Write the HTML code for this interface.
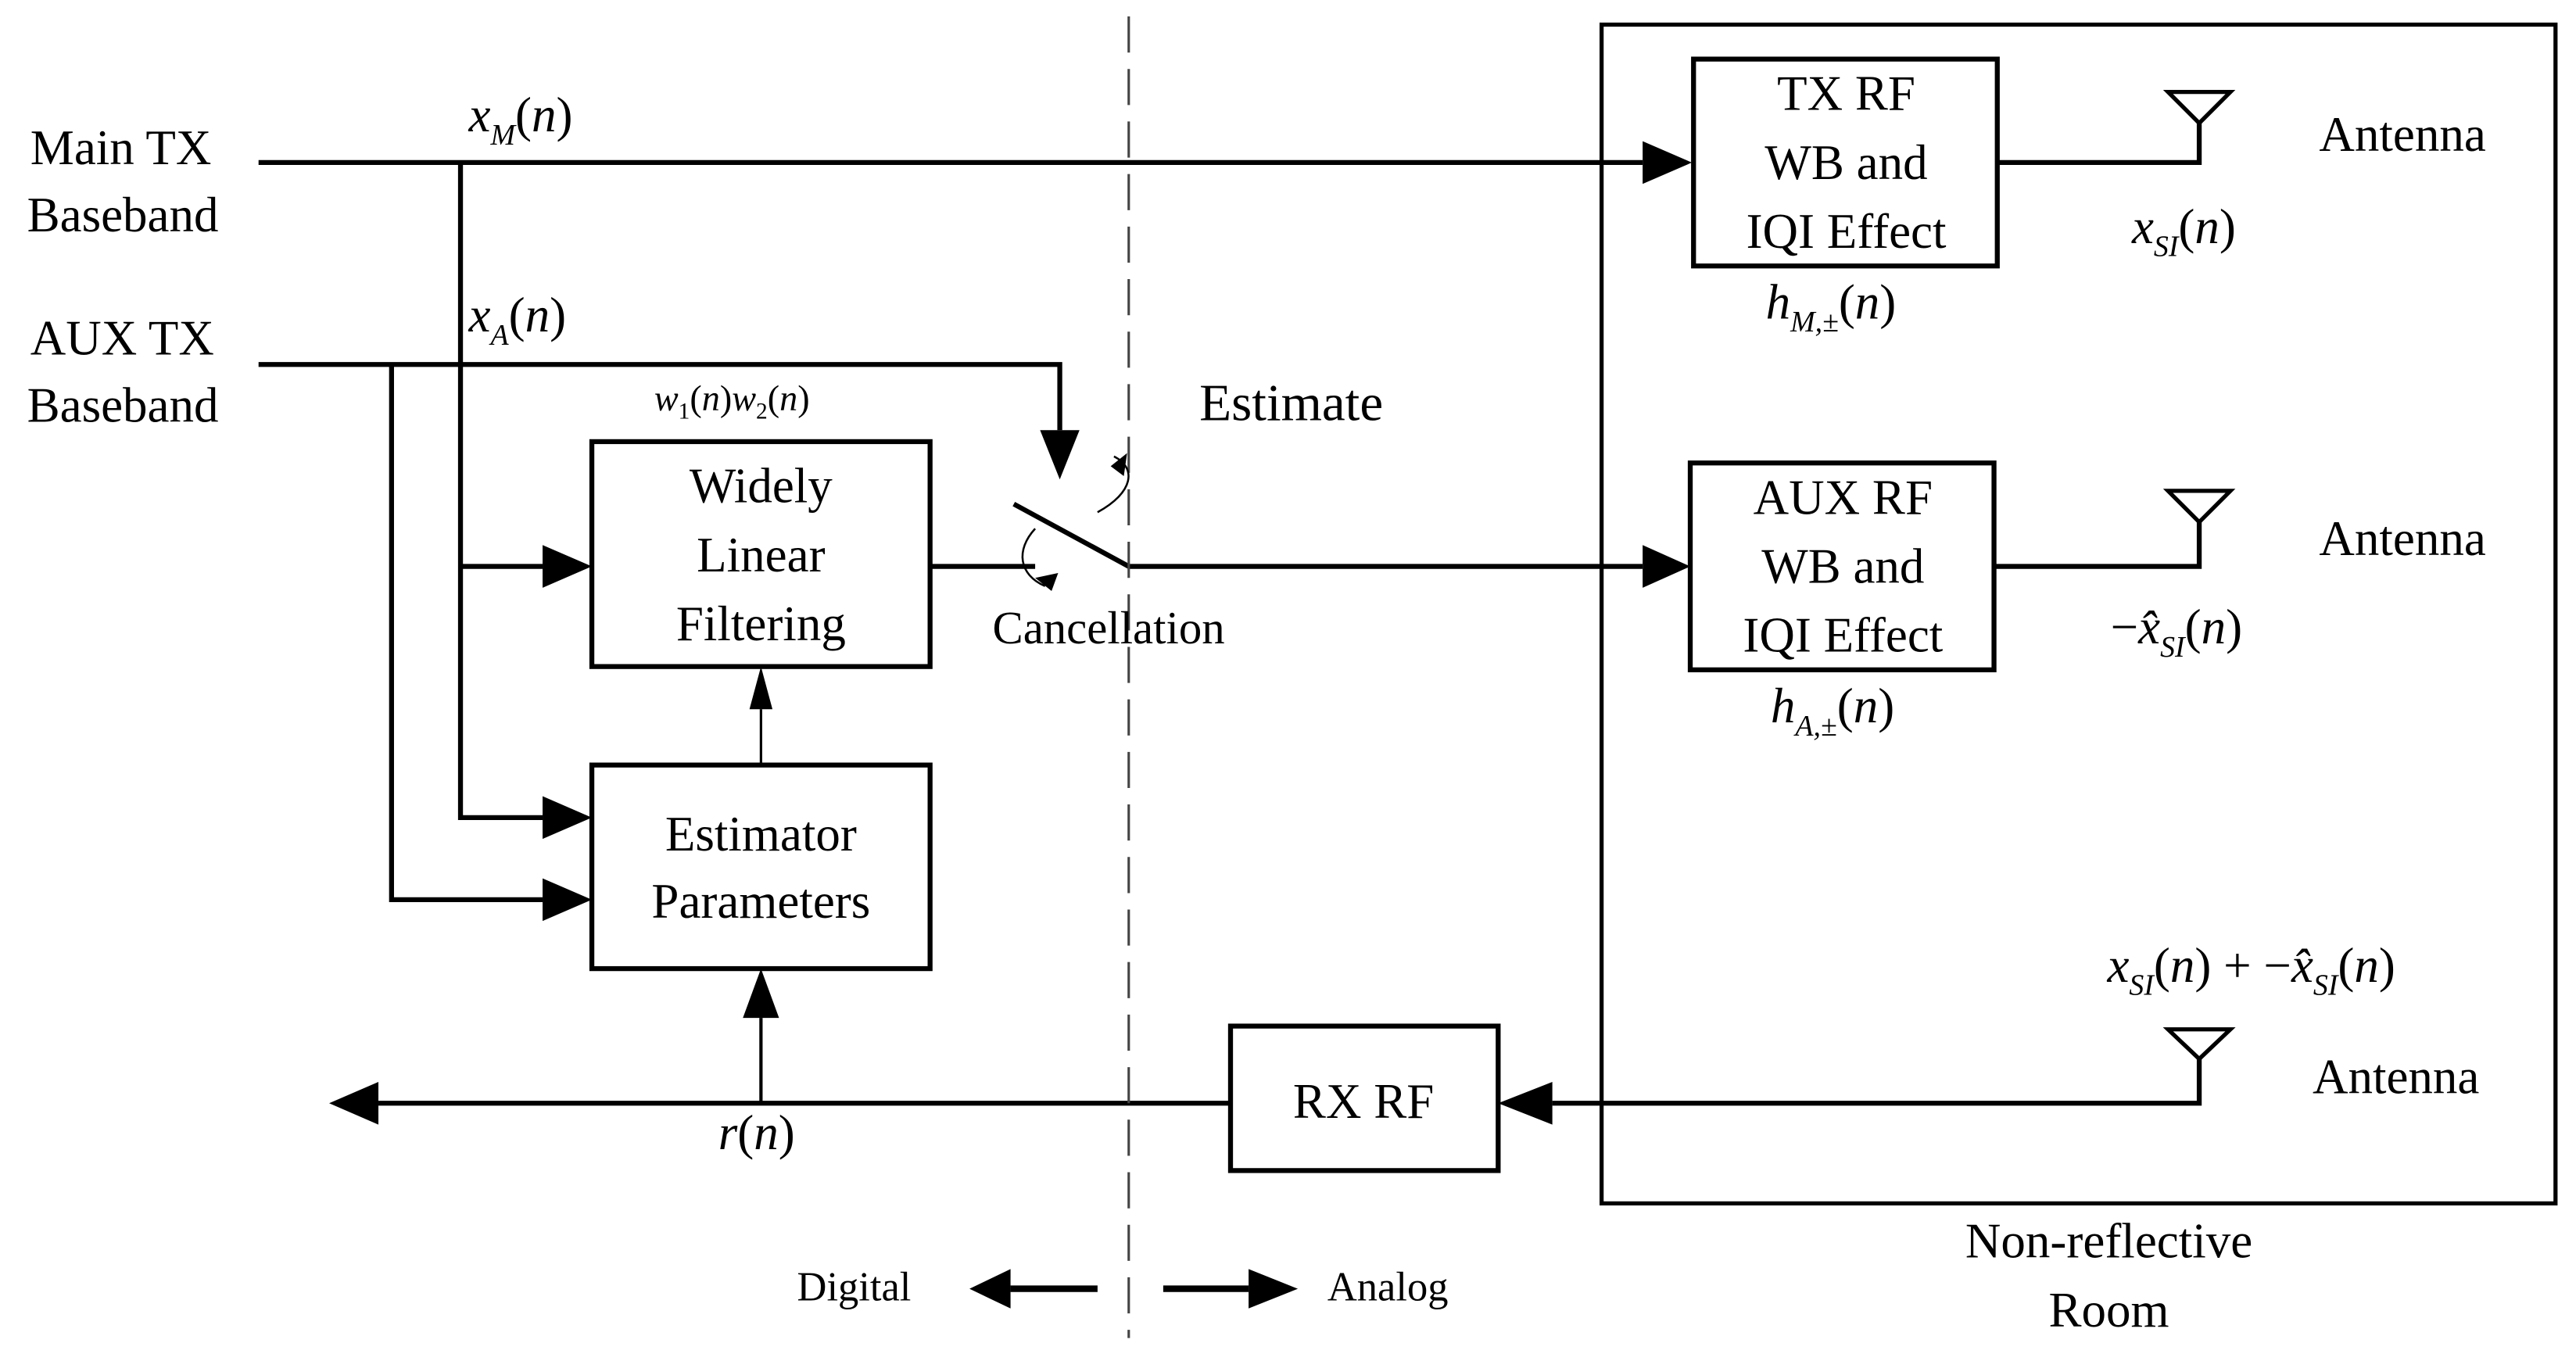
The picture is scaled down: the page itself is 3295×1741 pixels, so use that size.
<!DOCTYPE html>
<html><head><style>html,body{margin:0;padding:0;background:#fff}svg{display:block}text{font-family:"Liberation Serif",serif;fill:#000}</style></head><body>
<svg width="3295" height="1741" viewBox="0 0 1568 829" xmlns="http://www.w3.org/2000/svg">
<defs><marker id="a" markerWidth="10" markerHeight="10" refX="9" refY="5" orient="auto" markerUnits="userSpaceOnUse"><path d="M0,0 L0,0"/></marker></defs>
<g stroke="#000" fill="none" stroke-width="3">
<rect x="975" y="15" width="581" height="718" stroke-width="2.5"/>
<rect x="1031" y="36" width="185" height="126"/>
<rect x="1029" y="282" width="185" height="126"/>
<rect x="360" y="269" width="206" height="137"/>
<rect x="360" y="466" width="206" height="124"/>
<rect x="749" y="625" width="163" height="88"/>
<path d="M157,99 H1000"/>
<path d="M280,99 V498 H330"/>
<path d="M280,345 H330"/>
<path d="M157,222 H645 V262"/>
<path d="M238,222 V548 H330"/>
<path d="M566,345 H630"/>
<path d="M617,307 L687,345 H1000"/>
<path d="M1216,99 H1339 V75"/>
<path d="M1214,345 H1339 V318"/>
<path d="M1339,645 V672 H945"/>
<path d="M749,672 H230"/>
<path d="M463,672 V620" stroke-width="2"/>
<path d="M463,466 V432" stroke-width="1.5"/>
<path d="M1320,56 H1358 L1339,75 Z M1320,299 H1358 L1339,318 Z M1320,627 H1358 L1339,645 Z" stroke-width="2.5"/>
<path d="M615,785 H668 M708,785 H760" stroke-width="4"/>
<path d="M687,10 V815" stroke-width="1.5" stroke-dasharray="22,10" stroke="#444"/>
<path d="M668,312 C690,300 692,285 678,278" stroke-width="1.2"/>
<path d="M630,322 C618,335 620,350 636,357" stroke-width="1.2"/>
</g>
<g fill="#000">
<path d="M1000,86 L1030,99 L1000,112 Z"/>
<path d="M1000,332 L1029,345 L1000,358 Z"/>
<path d="M330,332 L360,345 L330,358 Z"/>
<path d="M330,485 L360,498 L330,511 Z"/>
<path d="M330,535 L360,548 L330,561 Z"/>
<path d="M633,262 L645,292 L657,262 Z"/>
<path d="M945,659 L912,672 L945,685 Z"/>
<path d="M230,659 L200,672 L230,685 Z"/>
<path d="M452,620 L463,590 L474,620 Z"/>
<path d="M456,432 L463,406 L470,432 Z"/>
<path d="M615,773 L590,785 L615,797 Z"/>
<path d="M760,773 L790,785 L760,797 Z"/>
<path d="M676,284 L686,276 L684,290 Z"/>
<path d="M630,352 L640,360 L644,349 Z"/>
</g>
<g font-size="30">
<text x="18" y="100">Main TX</text><text x="16" y="141">Baseband</text>
<text x="18" y="216">AUX TX</text><text x="16" y="257">Baseband</text>
<text x="730" y="256" font-size="32">Estimate</text>
<text x="604" y="392" font-size="28">Cancellation</text>
<g text-anchor="middle">
<text x="463" y="306">Widely</text><text x="463" y="348">Linear</text><text x="463" y="390">Filtering</text>
<text x="463" y="518">Estimator</text><text x="463" y="559">Parameters</text>
<text x="830" y="681">RX RF</text>
<text x="1124" y="67">TX RF</text><text x="1124" y="109">WB and</text><text x="1124" y="151">IQI Effect</text>
<text x="1122" y="313">AUX RF</text><text x="1122" y="355">WB and</text><text x="1122" y="397">IQI Effect</text>
<text x="1284" y="766">Non-reflective</text><text x="1284" y="808">Room</text>
</g>
<text x="1412" y="92">Antenna</text><text x="1412" y="338">Antenna</text><text x="1408" y="666">Antenna</text>
<text x="485" y="792" font-size="25">Digital</text><text x="808" y="792" font-size="25">Analog</text>
<g font-style="italic">
<text x="285" y="80">x<tspan font-size="18" dy="8">M</tspan><tspan dy="-8" font-style="normal">(</tspan>n<tspan font-style="normal">)</tspan></text>
<text x="285" y="202">x<tspan font-size="18" dy="8">A</tspan><tspan dy="-8" font-style="normal">(</tspan>n<tspan font-style="normal">)</tspan></text>
<text x="398" y="250" font-size="22">w<tspan font-size="14" dy="5" font-style="normal">1</tspan><tspan dy="-5" font-style="normal">(</tspan>n<tspan font-style="normal">)</tspan>w<tspan font-size="14" dy="5" font-style="normal">2</tspan><tspan dy="-5" font-style="normal">(</tspan>n<tspan font-style="normal">)</tspan></text>
<text x="1075" y="194">h<tspan font-size="18" dy="8">M,±</tspan><tspan dy="-8" font-style="normal">(</tspan>n<tspan font-style="normal">)</tspan></text>
<text x="1078" y="440">h<tspan font-size="18" dy="8">A,±</tspan><tspan dy="-8" font-style="normal">(</tspan>n<tspan font-style="normal">)</tspan></text>
<text x="1298" y="148">x<tspan font-size="18" dy="8">SI</tspan><tspan dy="-8" font-style="normal">(</tspan>n<tspan font-style="normal">)</tspan></text>
<text x="1285" y="392"><tspan font-style="normal">−</tspan>x̂<tspan font-size="18" dy="8">SI</tspan><tspan dy="-8" font-style="normal">(</tspan>n<tspan font-style="normal">)</tspan></text>
<text x="1283" y="598">x<tspan font-size="18" dy="8">SI</tspan><tspan dy="-8" font-style="normal">(</tspan>n<tspan font-style="normal">) + −</tspan>x̂<tspan font-size="18" dy="8">SI</tspan><tspan dy="-8" font-style="normal">(</tspan>n<tspan font-style="normal">)</tspan></text>
<text x="437" y="700">r<tspan font-style="normal">(</tspan>n<tspan font-style="normal">)</tspan></text>
</g>
</g>
</svg>
</body></html>
